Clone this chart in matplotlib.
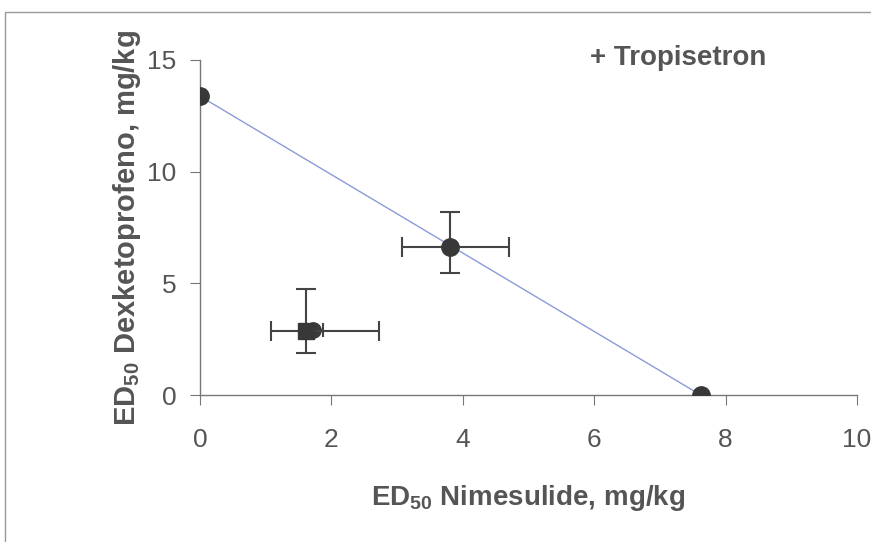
import matplotlib
matplotlib.use("Agg")
from matplotlib import pyplot as plt
from matplotlib.patches import Rectangle

plt.rcParams['font.family'] = ['Liberation Sans', 'DejaVu Sans']
plt.rcParams['mathtext.fontset'] = 'custom'
plt.rcParams['mathtext.rm'] = 'Liberation Sans'
plt.rcParams['mathtext.bf'] = 'Liberation Sans:bold'

# Additive line end points (ED50 of each drug alone)
line_x = [0.0, 7.62]
line_y = [13.38, 0.0]

# Theoretical additive point
theo_x = [3.8]
theo_y = [6.62]
theo_xerr = [[0.73], [0.90]]
theo_yerr = [[1.16], [1.57]]

# Experimental point
exp_x = [1.62]
exp_y = [2.86]
exp_xerr = [[0.54], [1.10]]
exp_yerr = [[0.98], [1.88]]

# small overlapping point
ov_x = [1.72]
ov_y = [2.9]
ov_xerr = [[0.15], [0.15]]

grey = "#555555"

fig = plt.figure(figsize=(8.71, 5.42), dpi=100)
ax = fig.add_axes([0.2296, 0.2712, 0.7544, 0.6181])

ax.plot(line_x, line_y, color="#8c9ad8", lw=1.0, zorder=2)
ax.plot(line_x, line_y, "o", color="#383838", ms=12.5, zorder=4)

ax.errorbar(ov_x, ov_y, xerr=ov_xerr, fmt="o", color="#3a3a3a", ms=11,
            ecolor="#444444", elinewidth=1.5, capsize=5, capthick=1.5, zorder=3)
ax.errorbar(exp_x, exp_y, xerr=exp_xerr, yerr=exp_yerr, fmt="s", color="#383838",
            ms=12, ecolor="#444444", elinewidth=1.5, capsize=7, capthick=1.5, zorder=4)
ax.errorbar(theo_x, theo_y, xerr=theo_xerr, yerr=theo_yerr, fmt="o", color="#383838",
            ms=12.5, ecolor="#444444", elinewidth=1.5, capsize=7, capthick=1.5, zorder=4)

ax.set_xlim(0, 10)
ax.set_ylim(0, 15)
ax.set_xticks([0, 2, 4, 6, 8, 10])
ax.set_yticks([0, 5, 10, 15])
ax.spines['top'].set_visible(False)
ax.spines['right'].set_visible(False)
for s in ['left', 'bottom']:
    ax.spines[s].set_color("#777777")
    ax.spines[s].set_linewidth(1.0)
ax.tick_params(axis='x', direction='out', length=7, color="#777777",
               labelsize=19, labelcolor=grey, pad=17)
ax.tick_params(axis='y', direction='out', length=7, color="#777777",
               labelsize=19, labelcolor=grey, pad=10)
for lab in ax.get_xticklabels() + ax.get_yticklabels():
    lab.set_clip_on(False)

ax.set_xlabel(r"ED$_{\mathbf{50}}$ Nimesulide, mg/kg", fontsize=20, fontweight="bold",
              color=grey, labelpad=22)
ax.set_ylabel(r"ED$_{\mathbf{50}}$ Dexketoprofeno, mg/kg", fontsize=21, fontweight="bold",
              color=grey, labelpad=3)
ax.text(5.93, 15.1, "+ Tropisetron", fontsize=20, fontweight="bold", color=grey,
        ha="left", va="center")

# outer frame of the figure
fig.patches.append(Rectangle((5 / 871, -0.05), 1.0, 0.978 + 0.05, transform=fig.transFigure,
                             fill=False, edgecolor="#999999", lw=1.0))

fig.savefig("out.png", dpi=100)
